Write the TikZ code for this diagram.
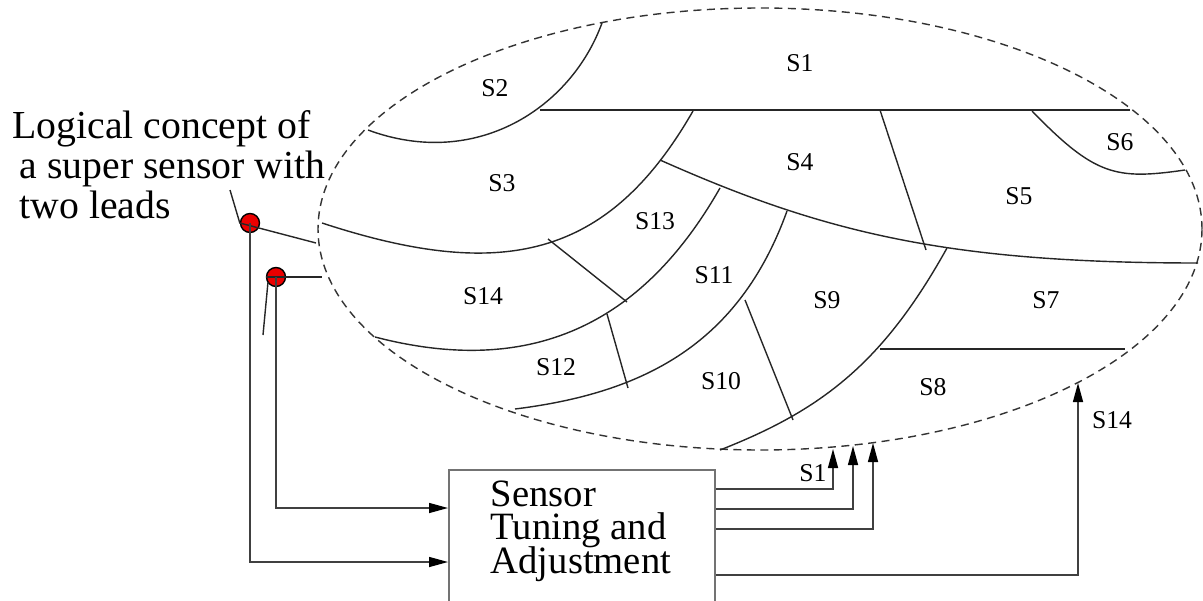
\documentclass[tikz,border=0pt]{standalone}
\usepackage{fontspec}
\setmainfont{Liberation Serif}
\usetikzlibrary{arrows.meta,calc}
\definecolor{leadred}{RGB}{235,0,0}
\newcommand\tightlines{\fontsize{11}{9.5}\selectfont\lineskiplimit-100pt\relax}
\tikzset{
  seg/.style={line width=0.4pt,black!85},
  feed/.style={line width=0.4pt,black!75,-{Triangle[length=1.9mm,width=1mm,black]}},
  lbl/.style={font=\fontsize{7.3}{8}\selectfont,inner sep=0pt},
  big/.style={font=\fontsize{11.3}{11.4}\selectfont,inner sep=0pt,align=left},
  boxtext/.style={font=\tightlines,inner sep=0pt,align=left},
  lead/.style={circle,draw,fill=leadred,minimum size=1.9mm,inner sep=0pt,line width=0.4pt},
}

\begin{document}
\begin{tikzpicture}[x=0.1mm,y=-0.1mm]
\useasboundingbox (0,0) rectangle (1203,600);
\clip (0,0) rectangle (1203,600);
\draw[line width=0.4pt,black!80,dash pattern=on 0.8mm off 0.55mm] (760,229) ellipse [x radius=44.2mm,y radius=22.1mm];
\draw[seg] (602,23) .. controls (571,108) and (476,170) .. (368,130);
\draw[seg] (693,111) .. controls (608,259) and (502,282) .. (322,223);
\draw[seg] (660,160) .. controls (824,233) and (948,263) .. (1198,263);
\draw[seg] (720,188) .. controls (647,316) and (540,380) .. (375,337);
\draw[seg] (787,211) .. controls (739,344) and (644,393) .. (515,409);
\draw[seg] (947,248) .. controls (883,363) and (822,410) .. (720,450);
\draw[seg] (1032,111) .. controls (1095,176) and (1116,180) .. (1185,170);
\draw[seg] (540,110) -- (1130,110);
\draw[seg] (880,110) -- (926,250);
\draw[seg] (548,239) -- (627,302);
\draw[seg] (607,314) -- (628,388);
\draw[seg] (745,300) -- (793,420);
\draw[seg] (880,349) -- (1125,349);
\node[lbl] (s1) at (800,63) {S1};
\node[lbl] (s2) at (495,88) {S2};
\node[lbl] (s3) at (502,183) {S3};
\node[lbl] (s4) at (800,162) {S4};
\node[lbl] (s5) at (1019,196) {S5};
\node[lbl] (s6) at (1120,142) {S6};
\node[lbl] (s7) at (1046,300) {S7};
\node[lbl] (s8) at (933,387) {S8};
\node[lbl] (s9) at (827,300) {S9};
\node[lbl] (s10) at (721,381) {S10};
\node[lbl] (s11) at (714,275) {S11};
\node[lbl] (s12) at (556,367) {S12};
\node[lbl] (s13) at (655,221) {S13};
\node[lbl] (s14) at (483,296) {S14};
\node[big,anchor=north west] (concept) at (12,110) {Logical concept of\\\hspace*{0.7mm}a super sensor with\\\hspace*{0.7mm}two leads};
\node[draw=black!55,line width=0.5pt,anchor=north west,minimum width=26.6mm,minimum height=16mm,inner sep=0pt] (tuner) at (448,469) {};
\node[boxtext,anchor=north west] (tunertxt) at (490,480) {Sensor\\Tuning and\\Adjustment};
\node[lead] (lead1) at (250,223) {};
\node[lead] (lead2) at (276,277) {};
\coordinate (tip1) at (230,190);
\coordinate (tap1) at (316,243);
\coordinate (tap2) at (322,277);
\coordinate (stub2) at (263,335);
\coordinate (in1) at (833,449);
\coordinate (in2) at (853,446);
\coordinate (in3) at (873,443);
\coordinate (in14) at (1078,383);
\draw[seg] (tip1) -- (lead1.west) -- (tap1);
\draw[seg] (lead2.west) -- (tap2);
\draw[seg] ($(lead2)+(-8,5)$) -- (stub2);
\draw[feed] (lead1.center) |- (tuner.west |- 0,562);
\draw[feed] (lead2.center) |- (tuner.west |- 0,508);
\draw[feed] (tuner.north east |- 0,489) -| (in1);
\draw[feed] (tuner.north east |- 0,509) -| (in2);
\draw[feed] (tuner.north east |- 0,529) -| (in3);
\draw[feed] (tuner.north east |- 0,575) -| (in14);
\node[lbl] (s1out) at (813,473) {S1};
\node[lbl] (s14out) at (1112,420) {S14};
\end{tikzpicture}
\end{document}
